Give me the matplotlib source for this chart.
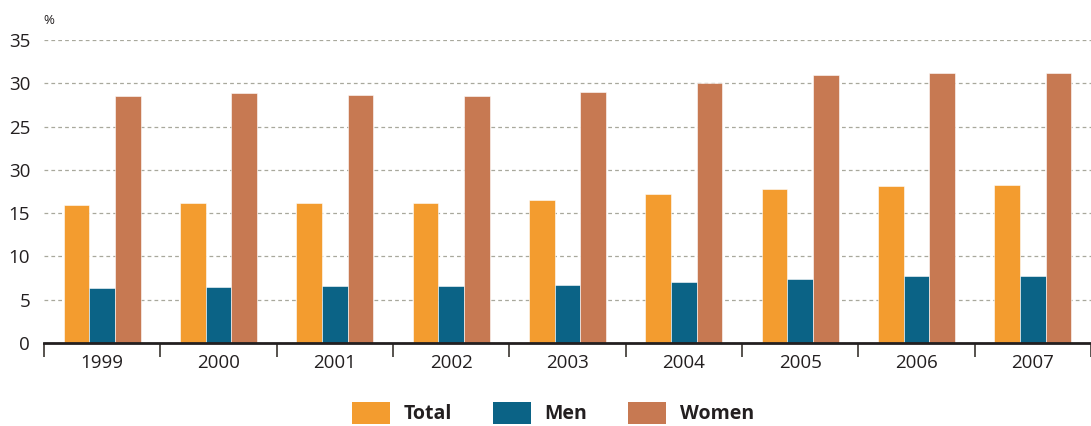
import matplotlib.pyplot as plt
import numpy as np
from matplotlib.patches import Patch

plt.rcParams["font.family"] = ["Open Sans", "DejaVu Sans"]

years = ["1999", "2000", "2001", "2002", "2003", "2004", "2005", "2006", "2007"]
total = [15.9, 16.2, 16.2, 16.2, 16.5, 17.2, 17.8, 18.1, 18.2]
men = [6.3, 6.5, 6.6, 6.6, 6.7, 7.1, 7.4, 7.7, 7.7]
women = [28.5, 28.9, 28.6, 28.5, 29.0, 30.0, 30.9, 31.2, 31.2]

y_ticks = [0, 5, 10, 15, 20, 25, 30, 35]
# the source chart prints "30" at the 20 line, kept as in the original
y_labels = ["0", "5", "10", "15", "30", "25", "30", "35"]

colors = {"Total": "#F39C2F", "Men": "#0B6386", "Women": "#C77952"}
text_color = "#231F20"


def main():
    fig = plt.figure(figsize=(10.91, 4.26), dpi=100)
    ax = fig.add_axes([44 / 1091, 1 - 343 / 426, 1 - 44 / 1091, (343 - 40) / 426])

    x = np.arange(len(years))
    w = 0.22
    for off, (label, vals) in zip((-w, 0, w), (("Total", total), ("Men", men), ("Women", women))):
        ax.bar(x + off, vals, width=w, color=colors[label], edgecolor="white",
               linewidth=0.4, zorder=3)

    ax.set_ylim(0, 35)
    # plot runs past the right edge of the image, like the source
    ax.set_xlim(-0.5, -0.5 + (1091 - 44) / 117.4)

    ax.set_yticks(y_ticks)
    ax.set_yticklabels(y_labels)
    ax.tick_params(axis="y", length=0, pad=10, labelsize=13.5, labelcolor=text_color)
    ax.yaxis.grid(True, linestyle=(0, (3, 2.5)), color="#A8A89C", linewidth=0.9, zorder=0)
    ax.set_axisbelow(True)

    ax.set_xticks(x)
    ax.set_xticklabels(years)
    ax.set_xticks(np.arange(len(years) + 1) - 0.5, minor=True)
    ax.tick_params(axis="x", which="major", length=0, pad=8, labelsize=13.5,
                   labelcolor=text_color)
    ax.tick_params(axis="x", which="minor", length=10, width=1.2, color="#3A3530",
                   direction="out")

    for side in ("left", "right", "top"):
        ax.spines[side].set_visible(False)
    ax.spines["bottom"].set_linewidth(2)
    ax.spines["bottom"].set_color(text_color)
    ax.spines["bottom"].set_zorder(4)

    fig.text(43 / 1091, 1 - 20 / 426, "%", fontsize=9.5, color=text_color,
             ha="left", va="center")

    handles = [Patch(facecolor=colors[k]) for k in ("Total", "Men", "Women")]
    leg = fig.legend(handles, ["Total", "Men", "Women"], loc="center",
                     bbox_to_anchor=(553 / 1091, 1 - 413 / 426), ncol=3,
                     frameon=False, fontsize=14, handlelength=1.95, handleheight=1.4,
                     handletextpad=0.72, columnspacing=2.1, borderpad=0)
    for t in leg.get_texts():
        t.set_fontweight("bold")
        t.set_color(text_color)

    fig.savefig("out.png", dpi=100)
    plt.close(fig)


if __name__ == "__main__":
    main()
